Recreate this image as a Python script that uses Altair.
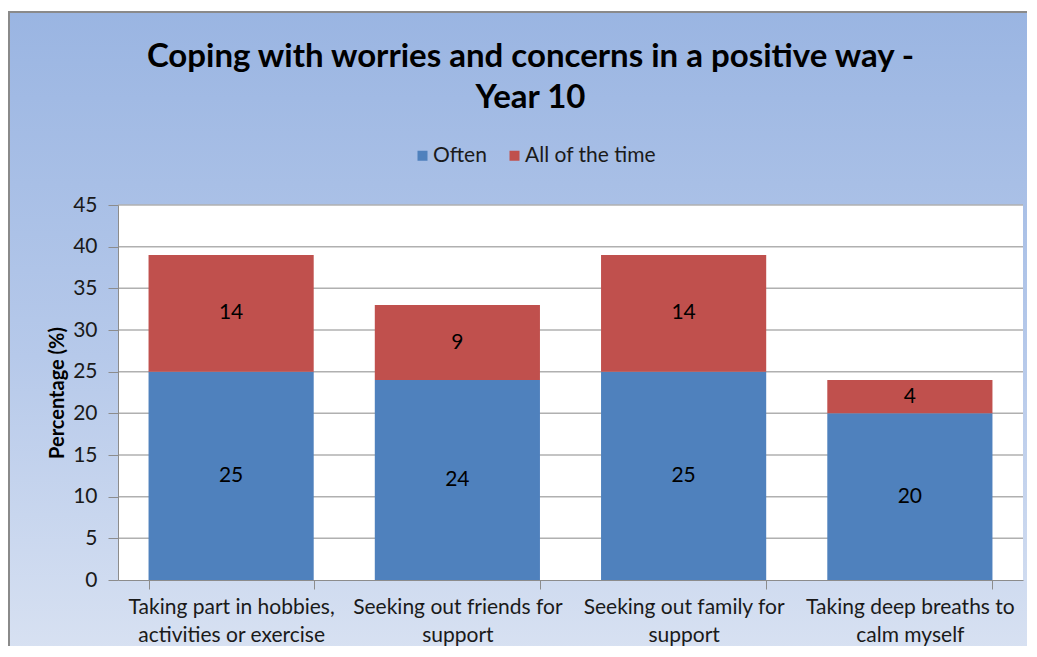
import altair as alt
import pandas as pd

categories = [
    "Taking part in hobbies,\nactivities or exercise",
    "Seeking out friends for\nsupport",
    "Seeking out family for\nsupport",
    "Taking deep breaths to\ncalm myself",
]
often = [25, 24, 25, 20]
all_time = [14, 9, 14, 4]
series = ["Often", "All of the time"]
colors = ["#4f81bd", "#c0504d"]
y_ticks = [0, 5, 10, 15, 20, 25, 30, 35, 40, 45]

rows = []
for c, o, a in zip(categories, often, all_time):
    rows.append({"cat": c, "series": series[0], "value": o, "order": 0, "y0": 0, "y1": o})
    rows.append({"cat": c, "series": series[1], "value": a, "order": 1, "y0": o, "y1": o + a})
df = pd.DataFrame(rows)
df["mid"] = (df["y0"] + df["y1"]) / 2

W, H = 905, 375
FONT = "Lato"
yscale = alt.Scale(domain=[0, 45])

xenc = alt.X(
    "cat:N",
    sort=categories,
    scale=alt.Scale(paddingInner=0.27, paddingOuter=0.135),
    axis=alt.Axis(
        title=None,
        labelAngle=0,
        labelExpr="split(datum.label, '\\n')",
        labelFontSize=21,
        labelFont=FONT,
        labelColor="#1a1a1a",
        labelPadding=7,
        labelLineHeight=28,
        labelLimit=0,
        tickBand="extent",
        tickSize=9,
        tickColor="#8c8c8c",
        domainColor="#8c8c8c",
        grid=False,
        zindex=2,
    ),
)

bg = alt.Chart(pd.DataFrame({"a": [0]})).mark_rect(
    fill=alt.Gradient(
        gradient="linear",
        x1=0, x2=0, y1=0, y2=1,
        stops=[
            alt.GradientStop(color="#9ab5e2", offset=0),
            alt.GradientStop(color="#b6c9ea", offset=0.5),
            alt.GradientStop(color="#dde5f3", offset=1),
        ],
    ),
    stroke="#8a8a8a",
    strokeWidth=2,
).encode(
    x=alt.value(-109),
    x2=alt.value(W + 40),
    y=alt.value(-193),
    y2=alt.value(H + 120),
)

plotbg = alt.Chart(pd.DataFrame({"a": [0]})).mark_rect(fill="white").encode(
    x=alt.value(0), x2=alt.value(W), y=alt.value(0), y2=alt.value(H)
)

grid = alt.Chart(pd.DataFrame({"t": y_ticks[1:]})).mark_rule(
    color="#b0b0b0", strokeWidth=1.5
).encode(
    y=alt.Y("t:Q", scale=yscale),
    x=alt.value(0),
    x2=alt.value(W),
)

bars = alt.Chart(df).mark_bar().encode(
    x=xenc,
    y=alt.Y(
        "y0:Q",
        scale=yscale,
        axis=alt.Axis(
            title="Percentage (%)",
            titleFont=FONT,
            titleFontSize=20,
            titleFontWeight="bold",
            titleColor="black",
            titlePadding=5,
            values=y_ticks,
            labelFont=FONT,
            labelFontSize=21,
            labelColor="#1a1a1a",
            labelPadding=11,
            tickSize=10,
            tickColor="#8c8c8c",
            domainColor="#8c8c8c",
            grid=False,
            zindex=2,
        ),
    ),
    y2="y1:Q",
    color=alt.Color(
        "series:N",
        sort=series,
        scale=alt.Scale(domain=series, range=colors),
        legend=alt.Legend(
            title=None,
            orient="none",
            direction="horizontal",
            legendX=294,
            legendY=-60,
            symbolType="square",
            symbolSize=100,
            symbolStrokeWidth=0,
            labelFont=FONT,
            labelFontSize=21,
            labelColor="#1a1a1a",
            columnPadding=17,
            labelOffset=0,
            zindex=2,
        ),
    ),
    order="order:Q",
)

labels = alt.Chart(df).mark_text(
    font=FONT, fontSize=21, color="black", baseline="middle"
).encode(
    x=alt.X("cat:N", sort=categories),
    y=alt.Y("mid:Q", scale=yscale),
    text="value:Q",
)

chart = alt.layer(bg, plotbg, grid, bars, labels).properties(
    width=W,
    height=H,
    autosize=alt.AutoSizeParams(type="none"),
    padding={"left": 110, "top": 197, "right": 4, "bottom": 66},
    title=alt.Title(
        text=["Coping with worries and concerns in a positive way -", "Year 10"],
        font=FONT,
        fontSize=33,
        fontWeight="bold",
        color="black",
        anchor="middle",
        baseline="alphabetic",
        dx=-40,
        dy=130,
        offset=0,
        lineHeight=41,
        zindex=2,
    ),
).configure_view(stroke=None).configure(background="white")

chart.save("out.html", embed_options={"renderer": "svg", "actions": False})
